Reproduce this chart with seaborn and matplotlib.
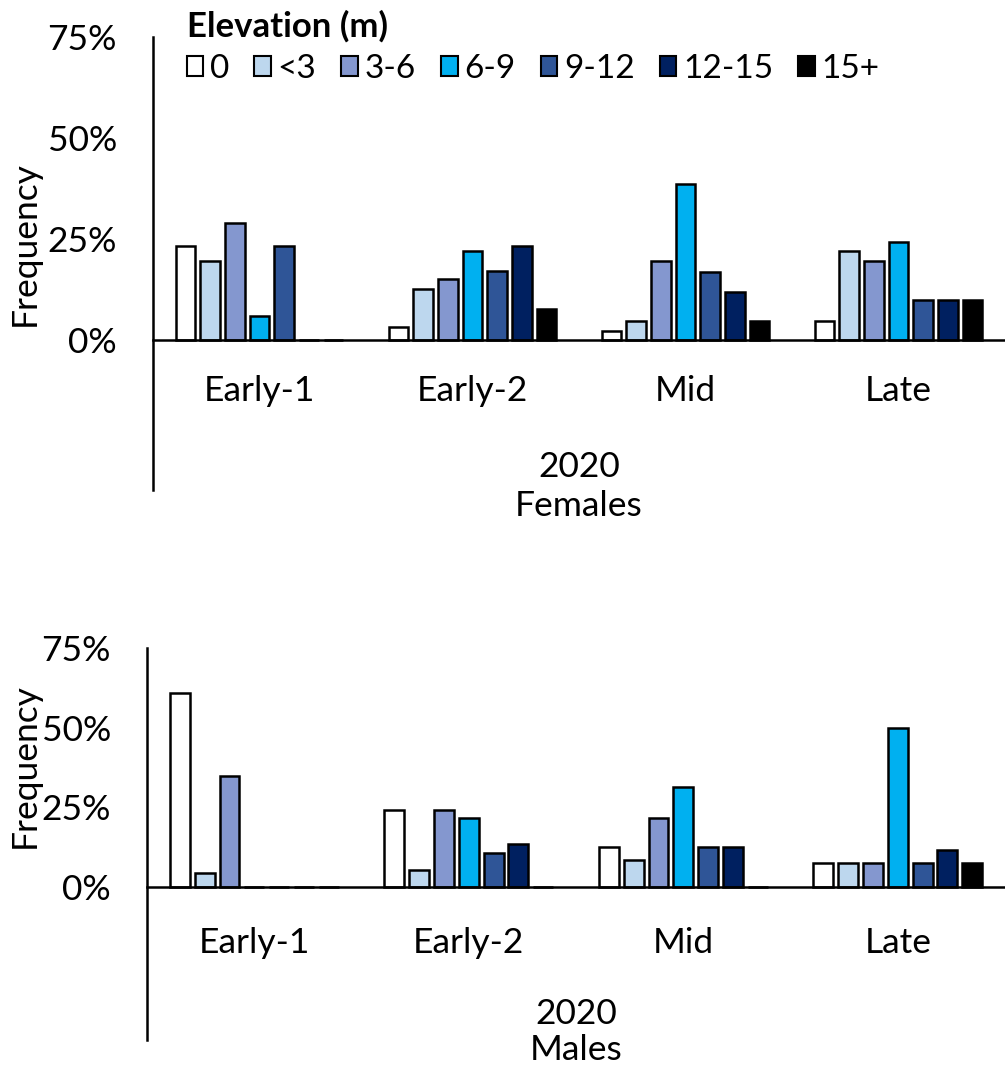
import matplotlib
matplotlib.use("Agg")
import matplotlib.pyplot as plt
import matplotlib.patches as mpatches
import pandas as pd
import seaborn as sns

# Categories
stages = ["Early-1", "Early-2", "Mid", "Late"]
elevations = ["0", "<3", "3-6", "6-9", "9-12", "12-15", "15+"]
colors = ["#FFFFFF", "#BDD7EE", "#8497CF", "#00B0F0", "#2F5597", "#002060", "#000000"]

# Frequency (%) by elevation bin, females 2020
f_early1 = [23.3, 19.5, 29.0, 6.0, 23.3, 0, 0]
f_early2 = [3.3, 12.7, 15.0, 22.0, 17.0, 23.3, 7.7]
f_mid = [2.3, 4.6, 19.5, 38.7, 16.8, 12.0, 4.6]
f_late = [4.7, 22.0, 19.5, 24.3, 9.8, 9.8, 9.8]

# Frequency (%) by elevation bin, males 2020
m_early1 = [60.9, 4.3, 34.8, 0, 0, 0, 0]
m_early2 = [24.1, 5.2, 24.1, 21.8, 10.6, 13.5, 0]
m_mid = [12.5, 8.6, 21.6, 31.5, 12.5, 12.5, 0]
m_late = [7.6, 7.6, 7.6, 50.0, 7.6, 11.5, 7.6]


def to_long(groups):
    rows = []
    for stage, vals in zip(stages, groups):
        for elev, v in zip(elevations, vals):
            rows.append({"stage": stage, "elev": elev, "freq": v})
    return pd.DataFrame(rows)


df_f = to_long([f_early1, f_early2, f_mid, f_late])
df_m = to_long([m_early1, m_early2, m_mid, m_late])

sns.set_style("white")
plt.rcParams["font.family"] = ["Lato", "DejaVu Sans"]
plt.rcParams["text.color"] = "black"
plt.rcParams["axes.labelcolor"] = "black"
FS = 25.5

fig = plt.figure(figsize=(10.05, 10.68), dpi=100)
ax1 = fig.add_axes([0.1522, 0.5412, 0.8478, 0.4242])
ax2 = fig.add_axes([0.1463, 0.0262, 0.8537, 0.3671])


def draw_panel(ax, df, ymin, xlabel, xlab_y, ylab_x, ylab_y, xpad, lsp):
    sns.barplot(data=df, x="stage", y="freq", hue="elev", order=stages,
                hue_order=elevations, palette=colors, saturation=1,
                width=0.81, gap=0.2, edgecolor="black", linewidth=1.8,
                errorbar=None, legend=False, ax=ax)
    ax.set_xlim(-0.5, 3.5)
    ax.set_ylim(ymin, 75)
    ax.set_yticks([0, 25, 50, 75])
    ax.set_yticklabels(["0%", "25%", "50%", "75%"])
    ax.spines["bottom"].set_position(("data", 0))
    ax.spines[["top", "right"]].set_visible(False)
    for s in ["left", "bottom"]:
        ax.spines[s].set_linewidth(1.8)
        ax.spines[s].set_color("black")
    ax.tick_params(axis="both", length=0, labelsize=FS, colors="black")
    ax.tick_params(axis="x", pad=xpad)
    ax.tick_params(axis="y", pad=26)
    ax.set_xlabel(xlabel, fontsize=FS, linespacing=lsp)
    ax.xaxis.set_label_coords(0.5, xlab_y)
    ax.set_ylabel("Frequency", fontsize=FS)
    ax.yaxis.set_label_coords(ylab_x, ylab_y)


draw_panel(ax1, df_f, -37.1, "2020\nFemales", 0.085, -0.132, 0.543, 25, 1.25)
draw_panel(ax2, df_m, -48.0, "2020\nMales", 0.106, -0.124, 0.70, 29, 1.15)

handles = [mpatches.Patch(facecolor=c, edgecolor="black", linewidth=1.5)
           for c in colors]
leg = fig.legend(handles, elevations, title="Elevation (m)", ncol=7,
                 loc="upper left", bbox_to_anchor=(0.166, 1.009), frameon=False,
                 fontsize=24, title_fontproperties={"weight": "bold", "size": 25},
                 handlelength=0.5, handleheight=0.55, handletextpad=0.2,
                 columnspacing=0.75, borderpad=0.1, alignment="left",
                 labelspacing=0.2)
leg._legend_box.sep = 8

fig.savefig("out.png", dpi=100)
